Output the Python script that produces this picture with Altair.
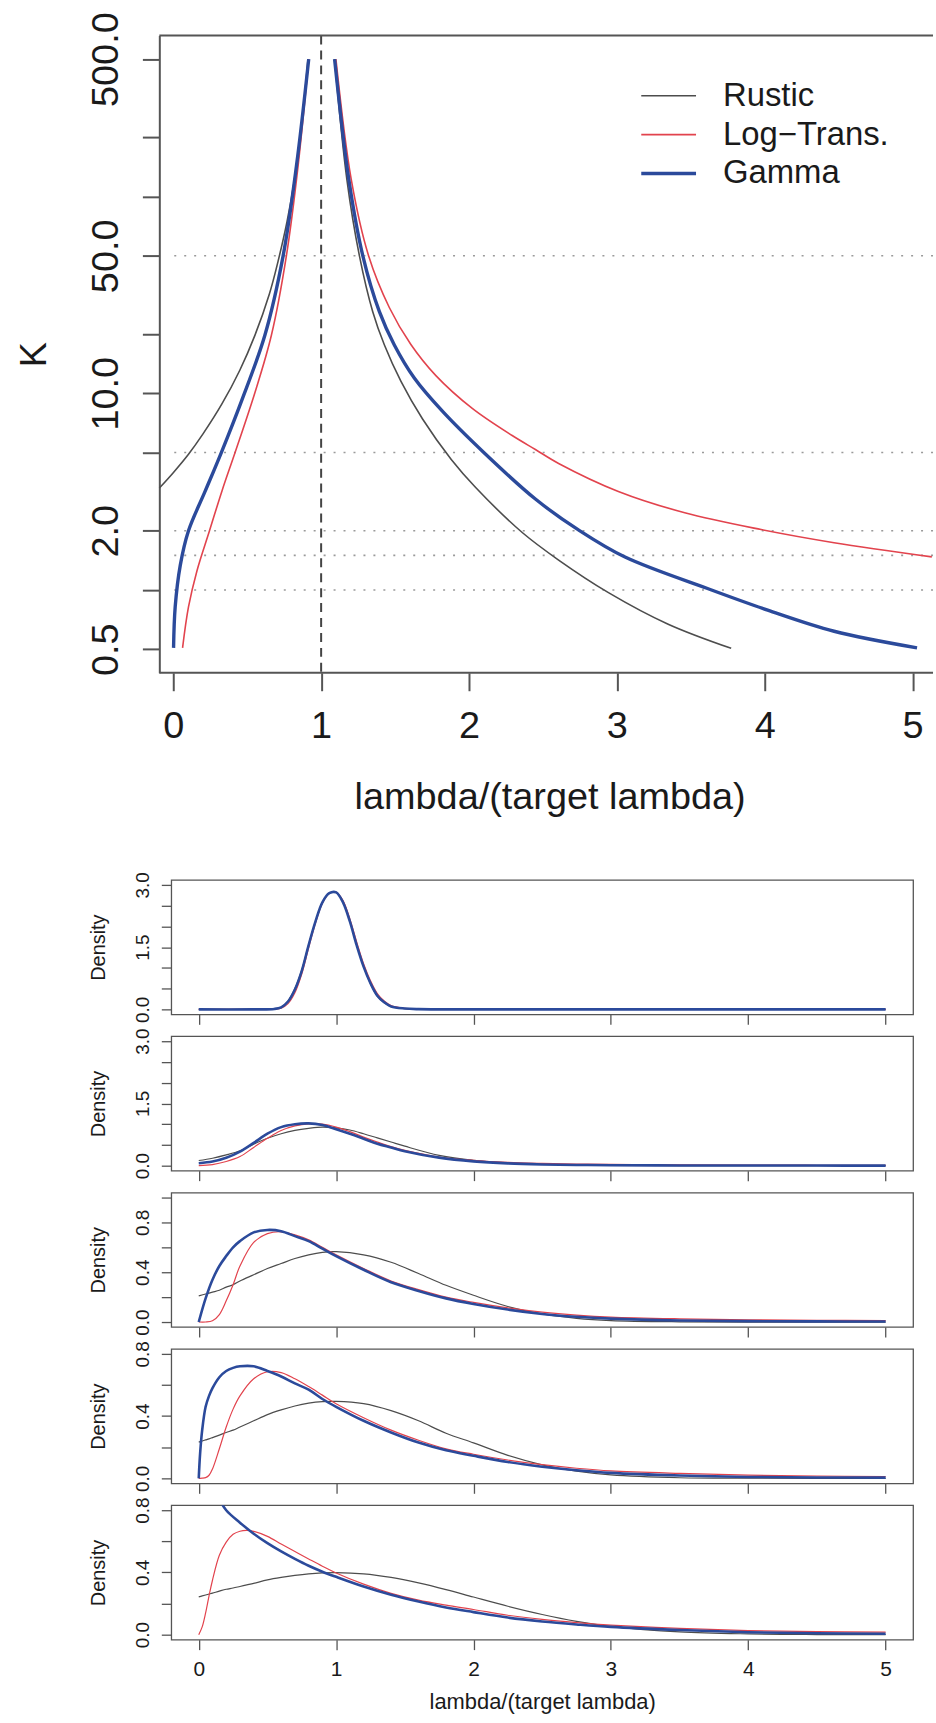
import altair as alt
import pandas as pd

# ---------------- shared settings ----------------
SERIES = ["Rustic", "Log\u2212Trans.", "Gamma"]
COLORS = ["#4d4d4d", "#e2434d", "#2b4a9b"]
TOP_WIDTHS = [1.6, 1.6, 3.4]
LOW_WIDTHS = [1.2, 1.2, 2.6]
FRAME = "#555555"
TEXT = "#1a1a1a"
FONT = "Liberation Sans"
CURVE = "catmull-rom"

# ---------------- top panel (K vs lambda ratio) ----------------
TOP_RUSTIC_L_LAM = [-0.094, 0.0, 0.103, 0.2, 0.328, 0.45, 0.552, 0.65, 0.709, 0.77, 0.822, 0.87, 0.911]
TOP_RUSTIC_L_K = [3.30, 3.95, 4.9, 6.2, 8.8, 13.1, 19.7, 32, 47, 75, 125, 235, 500]
TOP_RUSTIC_R_LAM = [1.091, 1.174, 1.259, 1.349, 1.428, 1.54, 1.686, 1.88, 2.045, 2.36, 2.606, 2.943, 3.347, 3.773]
TOP_RUSTIC_R_K = [500, 122.5, 50, 26, 17.6, 11.5, 7.4, 4.61, 3.32, 1.96, 1.42, 0.97, 0.67, 0.505]

TOP_LOG_L_LAM = [0.063, 0.103, 0.16, 0.245, 0.33, 0.418, 0.552, 0.664, 0.765, 0.844, 0.916]
TOP_LOG_L_K = [0.508, 0.82, 1.25, 2.0, 3.2, 5.0, 10.07, 19.8, 50, 143, 500]
TOP_LOG_R_LAM = [1.10, 1.203, 1.322, 1.461, 1.607, 1.776, 2.022, 2.292, 2.449, 2.606, 3.01, 3.459, 3.975, 4.469, 5.13]
TOP_LOG_R_K = [500, 123, 49.7, 27.3, 17.7, 12.3, 8.38, 6.1, 5.18, 4.4, 3.17, 2.47, 2.03, 1.74, 1.474]

TOP_GAMMA_L_LAM = [0.002, 0.013, 0.047, 0.103, 0.215, 0.325, 0.462, 0.62, 0.743, 0.833, 0.916]
TOP_GAMMA_L_K = [0.508, 0.82, 1.33, 2.0, 3.17, 5.0, 9.16, 19.8, 50, 143, 500]
TOP_GAMMA_R_LAM = [1.091, 1.187, 1.282, 1.394, 1.495, 1.63, 1.82, 2.1, 2.449, 2.74, 3.055, 3.64, 4.02, 4.469, 5.03]
TOP_GAMMA_R_K = [500, 122.5, 50, 26, 17.6, 11.96, 8.11, 5.0, 2.9, 2.02, 1.47, 1.0, 0.79, 0.617, 0.508]

GRID_K = [1, 1.5, 2, 5, 50]
VLINE_LAM = [1]
K_TICKS = [0.5, 1, 2, 5, 10, 20, 50, 100, 200, 500]
K_LABELED = [0.5, 2, 10, 50, 500]
X_TICKS = [0, 1, 2, 3, 4, 5]

# ---------------- density panels ----------------
P1_LAM = [0, 0.4, 0.55, 0.6, 0.65, 0.7, 0.75, 0.8, 0.85, 0.9, 0.95, 1.0, 1.05, 1.1, 1.15, 1.2, 1.25, 1.3, 1.35, 1.4, 1.5, 1.6, 2.0, 3.0, 4.0, 5.0]
P1_RUSTIC = [0, 0, 0.01, 0.05, 0.2, 0.5, 0.95, 1.56, 2.12, 2.57, 2.79, 2.82, 2.6, 2.14, 1.55, 1.03, 0.62, 0.32, 0.16, 0.07, 0.015, 0.003, 0, 0, 0, 0]
P1_LOG = [0, 0, 0.005, 0.03, 0.14, 0.40, 0.85, 1.48, 2.08, 2.56, 2.80, 2.83, 2.62, 2.18, 1.62, 1.10, 0.69, 0.38, 0.20, 0.09, 0.025, 0.007, 0, 0, 0, 0]
P1_GAMMA = [0, 0, 0.01, 0.05, 0.19, 0.48, 0.93, 1.55, 2.12, 2.58, 2.80, 2.82, 2.58, 2.12, 1.54, 1.03, 0.63, 0.33, 0.17, 0.07, 0.02, 0.005, 0, 0, 0, 0]

P2_LAM = [0, 0.1, 0.2, 0.3, 0.4, 0.5, 0.6, 0.7, 0.8, 0.9, 1.0, 1.1, 1.2, 1.3, 1.4, 1.5, 1.75, 2.0, 2.25, 2.5, 2.75, 3.0, 3.5, 4.0, 4.5, 5.0]
P2_RUSTIC = [0.125, 0.18, 0.26, 0.36, 0.52, 0.66, 0.77, 0.85, 0.90, 0.93, 0.91, 0.86, 0.77, 0.67, 0.57, 0.47, 0.25, 0.13, 0.07, 0.035, 0.018, 0.01, 0.004, 0.002, 0.001, 0.0]
P2_LOG = [0.0, 0.025, 0.10, 0.22, 0.44, 0.66, 0.85, 0.96, 1.01, 1.0, 0.93, 0.82, 0.69, 0.57, 0.46, 0.37, 0.21, 0.13, 0.08, 0.055, 0.04, 0.03, 0.02, 0.014, 0.011, 0.009]
P2_GAMMA = [0.06, 0.10, 0.19, 0.34, 0.55, 0.77, 0.93, 1.0, 1.02, 0.98, 0.88, 0.77, 0.65, 0.53, 0.44, 0.35, 0.195, 0.105, 0.055, 0.03, 0.018, 0.012, 0.006, 0.004, 0.003, 0.002]

P3_LAM = [0, 0.05, 0.1, 0.15, 0.2, 0.25, 0.3, 0.4, 0.5, 0.6, 0.7, 0.8, 0.9, 1.0, 1.2, 1.4, 1.6, 1.8, 2.0, 2.25, 2.5, 2.75, 3.0, 3.5, 4.0, 4.5, 5.0]
P3_RUSTIC = [0.21, 0.225, 0.24, 0.255, 0.28, 0.30, 0.33, 0.38, 0.43, 0.47, 0.51, 0.54, 0.56, 0.565, 0.54, 0.48, 0.39, 0.295, 0.215, 0.125, 0.065, 0.03, 0.012, 0.002, 0.0, 0.0, 0.0]
P3_LOG = [0, 0.0, 0.01, 0.06, 0.17, 0.30, 0.45, 0.64, 0.71, 0.725, 0.70, 0.66, 0.60, 0.54, 0.43, 0.33, 0.26, 0.20, 0.158, 0.114, 0.08, 0.056, 0.04, 0.026, 0.018, 0.014, 0.012]
P3_GAMMA = [0, 0.19, 0.34, 0.45, 0.53, 0.60, 0.65, 0.72, 0.74, 0.73, 0.69, 0.65, 0.59, 0.53, 0.42, 0.32, 0.25, 0.19, 0.145, 0.10, 0.065, 0.042, 0.027, 0.012, 0.007, 0.005, 0.004]

P4_LAM = [0, 0.01, 0.025, 0.05, 0.075, 0.1, 0.15, 0.2, 0.25, 0.3, 0.4, 0.5, 0.6, 0.7, 0.8, 0.9, 1.0, 1.2, 1.4, 1.6, 1.8, 2.0, 2.25, 2.5, 2.75, 3.0, 3.5, 4.0, 4.5, 5.0]
P4_RUSTIC = [0.233, 0.236, 0.24, 0.247, 0.254, 0.262, 0.278, 0.295, 0.31, 0.33, 0.37, 0.41, 0.44, 0.465, 0.483, 0.493, 0.495, 0.48, 0.435, 0.37, 0.29, 0.228, 0.148, 0.087, 0.046, 0.022, 0.004, 0.001, 0.0, 0.0]
P4_LOG = [0, 0, 0.001, 0.005, 0.02, 0.06, 0.19, 0.33, 0.445, 0.53, 0.64, 0.685, 0.68, 0.64, 0.59, 0.535, 0.48, 0.39, 0.31, 0.245, 0.19, 0.155, 0.118, 0.088, 0.065, 0.048, 0.032, 0.021, 0.015, 0.012]
P4_GAMMA = [0, 0.16, 0.31, 0.46, 0.53, 0.58, 0.65, 0.69, 0.71, 0.72, 0.72, 0.69, 0.655, 0.61, 0.57, 0.51, 0.46, 0.37, 0.295, 0.23, 0.18, 0.145, 0.105, 0.075, 0.052, 0.035, 0.018, 0.009, 0.006, 0.005]

P5_LAM = [0, 0.025, 0.05, 0.075, 0.1, 0.15, 0.2, 0.25, 0.3, 0.35, 0.4, 0.5, 0.6, 0.7, 0.8, 0.9, 1.0, 1.2, 1.4, 1.6, 1.8, 2.0, 2.25, 2.5, 2.75, 3.0, 3.5, 4.0, 4.5, 5.0]
P5_RUSTIC = [0.243, 0.249, 0.255, 0.261, 0.267, 0.28, 0.292, 0.30, 0.31, 0.32, 0.33, 0.352, 0.368, 0.381, 0.391, 0.397, 0.399, 0.391, 0.368, 0.333, 0.29, 0.242, 0.183, 0.13, 0.086, 0.054, 0.018, 0.005, 0.001, 0.0]
P5_LOG = [0, 0.05, 0.14, 0.25, 0.35, 0.51, 0.595, 0.645, 0.665, 0.67, 0.664, 0.632, 0.583, 0.535, 0.487, 0.44, 0.397, 0.325, 0.266, 0.222, 0.19, 0.162, 0.125, 0.098, 0.078, 0.062, 0.04, 0.026, 0.02, 0.017]
P5_GAMMA_LAM = [0.1, 0.15, 0.2, 0.3, 0.4, 0.5, 0.6, 0.7, 0.8, 0.9, 1.0, 1.2, 1.4, 1.6, 1.8, 2.0, 2.25, 2.5, 2.75, 3.0, 3.5, 4.0, 4.5, 5.0]
P5_GAMMA = [0.97, 0.87, 0.80, 0.72, 0.649, 0.588, 0.535, 0.487, 0.443, 0.405, 0.372, 0.31, 0.257, 0.213, 0.175, 0.145, 0.11, 0.085, 0.066, 0.05, 0.03, 0.016, 0.009, 0.006]

# ---------------- build top chart ----------------
top_rows = []
for i, b, lams, ks in [
    (0, "L", TOP_RUSTIC_L_LAM, TOP_RUSTIC_L_K),
    (0, "R", TOP_RUSTIC_R_LAM, TOP_RUSTIC_R_K),
    (1, "L", TOP_LOG_L_LAM, TOP_LOG_L_K),
    (1, "R", TOP_LOG_R_LAM, TOP_LOG_R_K),
    (2, "L", TOP_GAMMA_L_LAM, TOP_GAMMA_L_K),
    (2, "R", TOP_GAMMA_R_LAM, TOP_GAMMA_R_K),
]:
    for l, k in zip(lams, ks):
        top_rows.append({"lam": l, "K": k, "series": SERIES[i], "branch": SERIES[i] + b,
                         "lw": TOP_WIDTHS[i]})
top_df = pd.DataFrame(top_rows)

TOP_W, TOP_H = 765, 640
x_top = alt.Scale(domain=[-0.0135, 5.138], nice=False, zero=False)
y_top = alt.Scale(type="log", domain=[0.3793, 659.2], nice=False)

k_label_expr = (
    "indexof([" + ",".join(str(v) for v in K_LABELED) + "], datum.value) >= 0 ? "
    "format(datum.value, '.1f') : ''"
)

y_axis_top = alt.Axis(
    values=K_TICKS, labelExpr=k_label_expr, tickSize=17, offset=12,
    domain=True, domainColor=FRAME, domainWidth=2, tickColor=FRAME, tickWidth=2,
    grid=False, labelAngle=270, labelAlign="center", labelBaseline="alphabetic",
    labelPadding=25, labelFontSize=38, labelFont=FONT, labelColor=TEXT,
    labelOverlap=False, labelFlush=False,
    title="K", titleFontSize=38, titleFont=FONT, titleFontWeight="normal",
    titleColor=TEXT, titleAngle=270, titleAlign="center", titleBaseline="alphabetic",
    titleX=-114, titleY=320,
)
x_axis_top = alt.Axis(
    values=X_TICKS, format="d", tickSize=18, domain=False, tickColor=FRAME, tickWidth=2,
    grid=False, labelFontSize=38, labelFont=FONT, labelColor=TEXT, labelPadding=47,
    labelBaseline="alphabetic", labelAlign="center", labelFlush=False, labelOverlap=False,
    title="lambda/(target lambda)", titleFontSize=38, titleFont=FONT,
    titleFontWeight="normal", titleColor=TEXT, titleX=380, titleY=136,
    titleBaseline="alphabetic", titleAlign="center", titleAngle=0,
)
legend_top = alt.Legend(
    orient="none", legendX=483, legendY=44, title=None, symbolType="stroke",
    symbolSize=3025, labelFontSize=33, labelFont=FONT, labelColor=TEXT,
    labelOffset=38, rowPadding=5, padding=0, labelLimit=400,
    symbolStrokeWidth=alt.ExprRef(
        expr="datum.value == 'Gamma' ? %s : %s" % (TOP_WIDTHS[2], TOP_WIDTHS[0])),
)

grid_layer = alt.Chart(pd.DataFrame({"K": GRID_K})).mark_rule(
    color="#9a9a9a", strokeDash=[2, 8], strokeWidth=1.6
).encode(y=alt.Y("K:Q", scale=y_top, axis=y_axis_top))

vline_layer = alt.Chart(pd.DataFrame({"lam": VLINE_LAM})).mark_rule(
    color="#444444", strokeDash=[9, 6], strokeWidth=2
).encode(x=alt.X("lam:Q", scale=x_top, axis=x_axis_top))

lines_top = alt.Chart(top_df).mark_line(clip=False, interpolate=CURVE).encode(
    x=alt.X("lam:Q", scale=x_top, axis=x_axis_top),
    y=alt.Y("K:Q", scale=y_top, axis=y_axis_top),
    color=alt.Color("series:N", scale=alt.Scale(domain=SERIES, range=COLORS), legend=legend_top),
    strokeWidth=alt.StrokeWidth("lw:Q", scale=None),
    detail="branch:N",
)

one = pd.DataFrame({"z": [0]})
frame_top = alt.Chart(one).mark_rule(color=FRAME, strokeWidth=2).encode(
    x=alt.value(-12), x2=alt.value(TOP_W), y=alt.value(0))
frame_bottom = alt.Chart(one).mark_rule(color=FRAME, strokeWidth=2).encode(
    x=alt.value(-12), x2=alt.value(TOP_W), y=alt.value(TOP_H))

top_chart = alt.layer(grid_layer, vline_layer, lines_top, frame_top, frame_bottom).properties(
    width=TOP_W, height=TOP_H, view=alt.ViewBackground(stroke="transparent")
)

# ---------------- density panels ----------------
LOW_W, LOW_H = 745, 135
x_low = alt.Scale(domain=[-0.2, 5.2], nice=False, zero=False)


def density_panel(curves, ydom, yvals, ylabels, last):
    rows = []
    for i, lams, vals in curves:
        for l, v in zip(lams, vals):
            rows.append({"lam": l, "dens": v, "series": SERIES[i], "lw": LOW_WIDTHS[i]})
    df = pd.DataFrame(rows)
    label_expr = (
        "indexof([" + ",".join("'" + t + "'" for t in ylabels) + "], format(datum.value, '.1f')) >= 0 ? "
        "format(datum.value, '.1f') : ''"
    )
    y_axis = alt.Axis(
        values=yvals, labelExpr=label_expr, tickSize=10, domain=False, grid=False,
        tickColor=FRAME, tickWidth=1.3, labelAngle=270, labelAlign="center",
        labelBaseline="alphabetic", labelPadding=13, labelFontSize=19, labelFont=FONT,
        labelColor=TEXT, labelOverlap=False, labelFlush=False,
        title="Density", titleFontSize=20, titleFont=FONT, titleFontWeight="normal",
        titleColor=TEXT, titleAngle=270, titleAlign="center", titleBaseline="alphabetic",
        titleX=-67, titleY=LOW_H / 2,
    )
    if last:
        x_axis = alt.Axis(
            values=X_TICKS, format="d", tickSize=10, domain=False, grid=False,
            tickColor=FRAME, tickWidth=1.3, labelFontSize=21, labelFont=FONT,
            labelColor=TEXT, labelPadding=26, labelBaseline="alphabetic",
            labelAlign="center", labelFlush=False, labelOverlap=False,
            title="lambda/(target lambda)", titleFontSize=22, titleFont=FONT,
            titleFontWeight="normal", titleColor=TEXT, titleY=69,
            titleBaseline="alphabetic", titleAlign="center",
        )
    else:
        x_axis = alt.Axis(
            values=X_TICKS, tickSize=10, domain=False, grid=False, tickColor=FRAME,
            tickWidth=1.3, labels=False, title="",
        )
    return alt.Chart(df).mark_line(clip=True, interpolate=CURVE).encode(
        x=alt.X("lam:Q", scale=x_low, axis=x_axis),
        y=alt.Y("dens:Q", scale=alt.Scale(domain=ydom, nice=False, zero=False), axis=y_axis),
        color=alt.Color("series:N", scale=alt.Scale(domain=SERIES, range=COLORS), legend=None),
        strokeWidth=alt.StrokeWidth("lw:Q", scale=None),
    ).properties(width=LOW_W, height=LOW_H)


Y3_DOM, Y3_VALS, Y3_LAB = [-0.12, 3.12], [0, 0.5, 1, 1.5, 2, 2.5, 3], ["0.0", "1.5", "3.0"]
Y1_DOM, Y1_VALS, Y1_LAB = [-0.04, 1.04], [0, 0.2, 0.4, 0.6, 0.8, 1.0], ["0.0", "0.4", "0.8"]
Y8_DOM, Y8_VALS, Y8_LAB = [-0.032, 0.832], [0, 0.2, 0.4, 0.6, 0.8], ["0.0", "0.4", "0.8"]

panels = [
    density_panel([(0, P1_LAM, P1_RUSTIC), (1, P1_LAM, P1_LOG), (2, P1_LAM, P1_GAMMA)],
                  Y3_DOM, Y3_VALS, Y3_LAB, False),
    density_panel([(0, P2_LAM, P2_RUSTIC), (1, P2_LAM, P2_LOG), (2, P2_LAM, P2_GAMMA)],
                  Y3_DOM, Y3_VALS, Y3_LAB, False),
    density_panel([(0, P3_LAM, P3_RUSTIC), (1, P3_LAM, P3_LOG), (2, P3_LAM, P3_GAMMA)],
                  Y1_DOM, Y1_VALS, Y1_LAB, False),
    density_panel([(0, P4_LAM, P4_RUSTIC), (1, P4_LAM, P4_LOG), (2, P4_LAM, P4_GAMMA)],
                  Y8_DOM, Y8_VALS, Y8_LAB, False),
    density_panel([(0, P5_LAM, P5_RUSTIC), (1, P5_LAM, P5_LOG), (2, P5_GAMMA_LAM, P5_GAMMA)],
                  Y8_DOM, Y8_VALS, Y8_LAB, True),
]

inner = alt.vconcat(*panels, spacing=22, bounds="flush")

chart = alt.vconcat(top_chart, inner, spacing=54).properties(
    padding={"left": 15, "top": 7, "right": 0, "bottom": 4}
).configure(font=FONT).configure_view(stroke=FRAME, strokeWidth=1.3)

chart.save("out.html", embed_options={"renderer": "svg", "actions": False})
